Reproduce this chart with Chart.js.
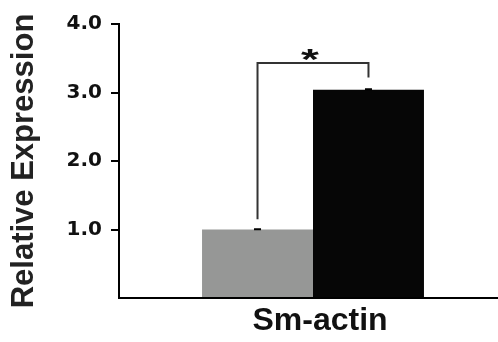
<!DOCTYPE html>
<html>
<head>
<meta charset="utf-8">
<script src="https://cdn.jsdelivr.net/npm/chart.js@4/dist/chart.umd.min.js"></script>
<style>
  html, body { margin: 0; padding: 0; background: #fff; overflow: hidden; }
  #wrap { width: 498px; height: 342px; overflow: hidden; }
</style>
</head>
<body>
<div id="wrap"><canvas id="chart" width="507" height="342"></canvas></div>
<script>
// chart data
const categories = ['Sm-actin'];
const controlValues = [1.0];
const controlErrors = [0.005];
const treatedValues = [3.04];
const treatedErrors = [0.008];
const yTicks = [1, 2, 3, 4];
// significance bracket: [left end, right end, top level] in data units
const bracketEnds = [1.15, 3.22];
const bracketTop = 3.43;
const sigLabel = '*';

const FONT = '"Liberation Sans", Arial, Helvetica, sans-serif';
const TICK_FONT = '"DejaVu Sans", Verdana, sans-serif';

// draws the small error caps on top of each bar
const errorBars = {
    id: 'errorBars',
    afterDatasetsDraw(chart) {
        const ctx = chart.ctx;
        const y = chart.scales.y;
        const errs = [controlErrors, treatedErrors];
        ctx.save();
        ctx.strokeStyle = '#000';
        ctx.lineWidth = 2;
        chart.data.datasets.forEach((ds, i) => {
            chart.getDatasetMeta(i).data.forEach((bar, j) => {
                const v = ds.data[j];
                const e = errs[i][j];
                const yTop = y.getPixelForValue(v + e);
                const yBot = y.getPixelForValue(v - e);
                ctx.beginPath();
                ctx.moveTo(bar.x, yTop); ctx.lineTo(bar.x, yBot);
                ctx.moveTo(bar.x - 3.5, yTop); ctx.lineTo(bar.x + 3.5, yTop);
                ctx.stroke();
            });
        });
        ctx.restore();
    }
};

// bracket + star between the two bars
const sigBracket = {
    id: 'sigBracket',
    afterDatasetsDraw(chart) {
        const ctx = chart.ctx;
        const y = chart.scales.y;
        const x1 = chart.getDatasetMeta(0).data[0].x;
        const x2 = chart.getDatasetMeta(1).data[0].x;
        const yTop = y.getPixelForValue(bracketTop);
        ctx.save();
        ctx.strokeStyle = '#333';
        ctx.lineWidth = 2;
        ctx.beginPath();
        ctx.moveTo(x1, y.getPixelForValue(bracketEnds[0]));
        ctx.lineTo(x1, yTop);
        ctx.lineTo(x2, yTop);
        ctx.lineTo(x2, y.getPixelForValue(bracketEnds[1]));
        ctx.stroke();
        // star is a bit squat in the original
        ctx.fillStyle = '#111';
        ctx.font = 'bold 46px ' + FONT;
        ctx.textAlign = 'center';
        ctx.textBaseline = 'alphabetic';
        ctx.translate((x1 + x2) / 2 - 3, yTop + 6);
        ctx.scale(1, 0.65);
        ctx.fillText(sigLabel, 0, 0);
        ctx.restore();
    }
};

new Chart(document.getElementById('chart'), {
    type: 'bar',
    data: {
        labels: categories,
        datasets: [{
            label: 'Control',
            data: controlValues,
            backgroundColor: '#969796',
            categoryPercentage: 0.572,
            barPercentage: 1.0
        }, {
            label: 'Treated',
            data: treatedValues,
            backgroundColor: '#060606',
            categoryPercentage: 0.572,
            barPercentage: 1.0
        }]
    },
    options: {
        responsive: false,
        animation: false,
        devicePixelRatio: 1,
        layout: { padding: { top: 24, right: 0, left: 0, bottom: 0 } },
        plugins: {
            legend: { display: false },
            tooltip: { enabled: false }
        },
        scales: {
            x: {
                grid: { display: false, drawTicks: false },
                border: { color: '#000', width: 2 },
                ticks: {
                    color: '#111',
                    padding: 4,
                    labelOffset: 7,
                    font: { family: FONT, size: 32, weight: 'bold' }
                },
                afterFit(scale) { scale.height = 44; }
            },
            y: {
                min: 0,
                max: 4,
                afterBuildTicks(scale) {
                    scale.ticks = [0].concat(yTicks).map(v => ({ value: v }));
                },
                grid: {
                    drawOnChartArea: false,
                    drawTicks: true,
                    tickLength: 8,
                    lineWidth: 2,
                    tickColor: ctx => (ctx.tick && ctx.tick.value === 0) ? 'rgba(0,0,0,0)' : '#000'
                },
                border: { color: '#000', width: 2 },
                ticks: {
                    color: '#111',
                    padding: 9,
                    font: { family: TICK_FONT, size: 20, weight: 'bold' },
                    callback: v => v === 0 ? '' : v.toFixed(1)
                },
                title: {
                    display: true,
                    text: 'Relative Expression',
                    color: '#222',
                    padding: { top: 6, bottom: 0 },
                    font: { family: FONT, size: 31, weight: 'bold' }
                },
                afterFit(scale) { scale.width = 119; }
            }
        }
    },
    plugins: [errorBars, sigBracket]
});
</script>
</body>
</html>
